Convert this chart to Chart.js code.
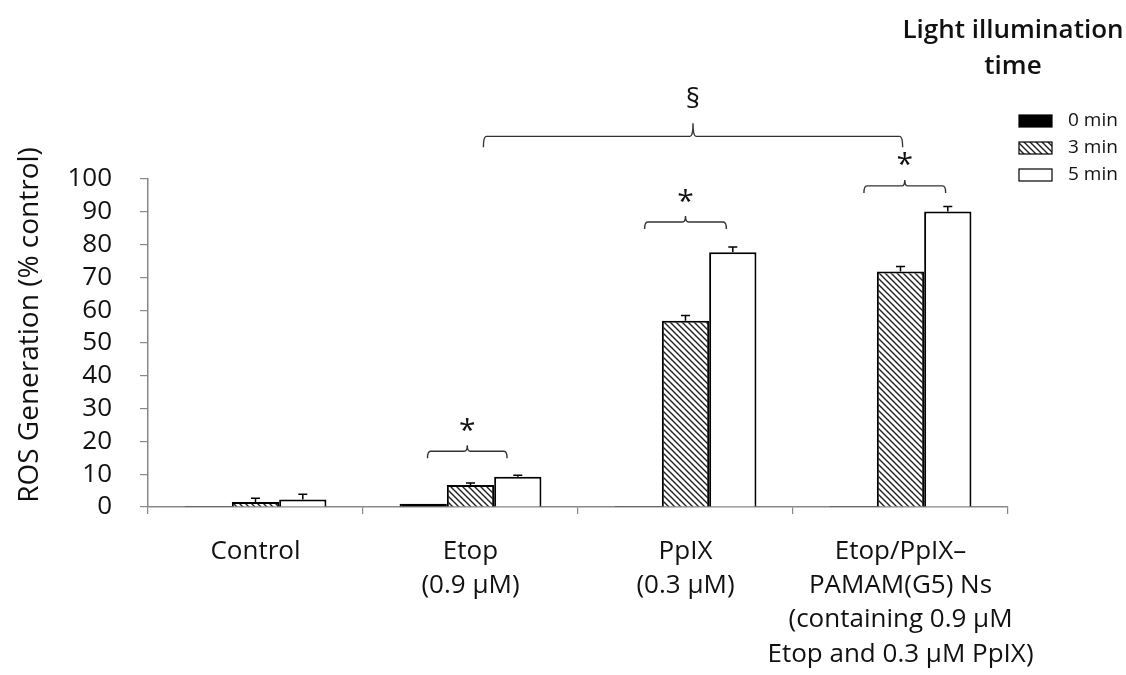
<!DOCTYPE html>
<html>
<head>
<meta charset="utf-8">
<script src="https://cdn.jsdelivr.net/npm/chart.js@4"></script>
<style>
  html, body { margin: 0; padding: 0; background: #fff; }
  #wrap { width: 1126px; height: 675px; }
</style>
</head>
<body>
<div id="wrap"><canvas id="grafico" width="1126" height="675"></canvas></div>
<script>
// ================= DADOS =================
const categorias = [
    "Control",
    ["Etop", "(0.9 μM)"],
    ["PpIX", "(0.3 μM)"],
    ["Etop/PpIX–", "PAMAM(G5) Ns", "(containing 0.9 μM", "Etop and 0.3 μM PpIX)"]
]
const rotulosSeries = ["0 min", "3 min", "5 min"]

const valores0min = [0.3, 1.0, 0.3, 0.3]
const valores3min = [1.5, 6.7, 56.8, 71.8]
const valores5min = [2.3, 9.2, 77.7, 90.1]

const erro0min = [0, 0, 0, 0]
const erro3min = [1.2, 0.6, 1.6, 1.5]
const erro5min = [1.6, 0.5, 1.6, 1.5]

const ticksY = [0, 10, 20, 30, 40, 50, 60, 70, 80, 90, 100]
const tituloY = "ROS Generation (% control)"

// colchetes de significância: [inicio (categoria), fim (categoria), altura (valor), texto]
const colchetes = [
    [0.80, 1.17, 17.0, "*"],
    [1.81, 2.19, 86.9, "*"],
    [2.83, 3.21, 97.9, "*"],
    [1.06, 3.01, 113.0, "§"]
]

const FONTE = "'Open Sans', 'Noto Sans', sans-serif"

// ================= PADRÃO HACHURADO =================
function criarHachura() {
    const tam = 6
    const c = document.createElement("canvas")
    c.width = tam
    c.height = tam
    const ctx = c.getContext("2d")
    ctx.fillStyle = "#fff"
    ctx.fillRect(0, 0, tam, tam)
    ctx.strokeStyle = "#222"
    ctx.lineWidth = 1.4
    ctx.beginPath()
    ctx.moveTo(-1, -1); ctx.lineTo(tam + 1, tam + 1)
    ctx.moveTo(-1, tam - 1); ctx.lineTo(1, tam + 1)
    ctx.moveTo(tam - 1, -1); ctx.lineTo(tam + 1, 1)
    ctx.stroke()
    return ctx.createPattern(c, "repeat")
}
const hachura = criarHachura()

// ================= PLUGINS =================
// barras de erro (só para cima)
const pluginErro = {
    id: "barrasErro",
    afterDatasetsDraw(chart) {
        const ctx = chart.ctx
        const y = chart.scales.y
        ctx.save()
        ctx.strokeStyle = "#000"
        ctx.lineWidth = 1.5
        chart.data.datasets.forEach((ds, i) => {
            const meta = chart.getDatasetMeta(i)
            meta.data.forEach((bar, j) => {
                const e = ds.erros[j]
                if (!e) return
                const yTopo = y.getPixelForValue(ds.data[j] + e)
                ctx.beginPath()
                ctx.moveTo(bar.x, bar.y)
                ctx.lineTo(bar.x, yTopo)
                ctx.moveTo(bar.x - 4.5, yTopo)
                ctx.lineTo(bar.x + 4.5, yTopo)
                ctx.stroke()
            })
        })
        ctx.restore()
    }
}

// colchetes com * e §
const pluginColchetes = {
    id: "colchetes",
    afterDraw(chart) {
        const ctx = chart.ctx
        const xs = chart.scales.x
        const ys = chart.scales.y
        const larg = xs.getPixelForValue(1) - xs.getPixelForValue(0)
        ctx.save()
        ctx.strokeStyle = "#333"
        ctx.lineWidth = 1.4
        ctx.fillStyle = "#111"
        ctx.textAlign = "center"
        ctx.textBaseline = "middle"
        colchetes.forEach(([a, b, v, txt]) => {
            const x1 = xs.getPixelForValue(0) + a * larg
            const x2 = xs.getPixelForValue(0) + b * larg
            const yy = ys.getPixelForValue(v)
            const xm = (x1 + x2) / 2
            const grande = txt === "§"
            const perna = grande ? 11 : 7
            const pico = grande ? 13 : 6
            ctx.beginPath()
            ctx.moveTo(x1, yy + perna)
            ctx.quadraticCurveTo(x1, yy, x1 + 3, yy)
            ctx.lineTo(xm - 3, yy)
            ctx.quadraticCurveTo(xm, yy, xm, yy - pico)
            ctx.quadraticCurveTo(xm, yy, xm + 3, yy)
            ctx.lineTo(x2 - 3, yy)
            ctx.quadraticCurveTo(x2, yy, x2, yy + perna)
            ctx.stroke()
            if (grande) {
                ctx.font = "28px " + FONTE
                ctx.fillText(txt, xm, yy - 36)
            } else {
                ctx.font = "30px " + FONTE
                ctx.fillText(txt, xm, yy - 20)
            }
        })
        ctx.restore()
    }
}

// legenda personalizada (canto superior direito) + título do eixo Y
const pluginLegenda = {
    id: "legendaCustom",
    afterDraw(chart) {
        const ctx = chart.ctx
        ctx.save()
        ctx.fillStyle = "#111"
        ctx.textAlign = "center"
        ctx.textBaseline = "middle"
        ctx.font = "600 26px " + FONTE
        ctx.fillText("Light illumination", 1013, 31)
        ctx.fillText("time", 1013, 67)

        ctx.font = "19px " + FONTE
        chart.data.datasets.forEach((ds, i) => {
            const yc = 121 + i * 27
            ctx.fillStyle = ds.backgroundColor
            ctx.fillRect(1019, yc - 6, 33, 12)
            ctx.strokeStyle = "#000"
            ctx.lineWidth = 1.2
            ctx.strokeRect(1019, yc - 6, 33, 12)
            ctx.fillStyle = "#111"
            ctx.textAlign = "left"
            ctx.fillText(ds.label, 1068, yc)
        })

        // título do eixo Y
        ctx.translate(30, 325)
        ctx.rotate(-Math.PI / 2)
        ctx.textAlign = "center"
        ctx.font = "28px " + FONTE
        ctx.fillText(tituloY, 0, 0)
        ctx.restore()
    }
}

// ================= GRÁFICO =================
function criarDataset(rotulo, dados, erros, cor) {
    return {
        label: rotulo,
        data: dados,
        erros: erros,
        backgroundColor: cor,
        borderColor: "#000",
        borderWidth: 2,
        borderSkipped: "bottom",
        categoryPercentage: 0.66,
        barPercentage: 1.0
    }
}

new Chart(document.getElementById("grafico"), {
    type: "bar",
    data: {
        labels: categorias,
        datasets: [
            criarDataset(rotulosSeries[0], valores0min, erro0min, "#000"),
            criarDataset(rotulosSeries[1], valores3min, erro3min, hachura),
            criarDataset(rotulosSeries[2], valores5min, erro5min, "#fff")
        ]
    },
    options: {
        responsive: false,
        animation: false,
        layout: { padding: { left: 0, right: 118, top: 179, bottom: 0 } },
        plugins: {
            legend: { display: false },
            tooltip: { enabled: false }
        },
        scales: {
            x: {
                offset: true,
                grid: { offset: true, drawOnChartArea: false, tickLength: 7, color: "#888", lineWidth: 1.2 },
                border: { color: "#888", width: 1.5 },
                ticks: {
                    color: "#111",
                    font: { family: FONTE, size: 26, lineHeight: 1.32 },
                    padding: 20,
                    maxRotation: 0,
                    autoSkip: false
                },
                afterFit: s => { s.height = 168 }
            },
            y: {
                min: 0,
                max: 100,
                afterBuildTicks: s => { s.ticks = ticksY.map(v => ({ value: v })) },
                grid: { drawOnChartArea: false, tickLength: 8, color: "#888", lineWidth: 1.2 },
                border: { color: "#888", width: 1.5 },
                ticks: {
                    color: "#111",
                    font: { family: FONTE, size: 26, lineHeight: 1.0 },
                    padding: 28,
                    autoSkip: false
                },
                afterFit: s => { s.width = 148 }
            }
        }
    },
    plugins: [pluginErro, pluginColchetes, pluginLegenda]
})
</script>
</body>
</html>
